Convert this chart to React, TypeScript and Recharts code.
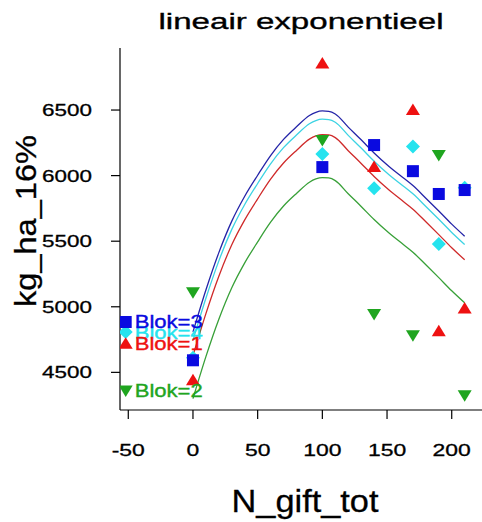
import { ComposedChart, Line, Scatter, XAxis, YAxis } from 'recharts';

const FONT = '"Liberation Sans", Arial, sans-serif';

// observations per block (x = N_gift_tot)
const blokX = [-52, 0, 100, 140, 170, 190, 210];
const blok1Y = [4719, 4440, 6855, 6065, 6500, 4814, 4987];
const blok2Y = [4362, 5111, 6271, 4945, 4783, 6157, 4325];
const blok3Y = [4884, 4592, 6065, 6233, 6034, 5860, 5890];
const blok4Y = [4807, 4612, 6164, 5904, 6222, 5478, 5908];

// fitted lineair-exponentieel curves
const curveX = [0, 10, 20, 30, 40, 50, 60, 70, 80, 90, 95, 100, 105, 110, 120, 130, 140, 150, 160, 170, 180, 190, 200, 210];
const fit1 = [4628, 4948, 5233, 5473, 5663, 5823, 5973, 6096, 6192, 6278, 6303, 6313, 6310, 6290, 6190, 6093, 5993, 5903, 5823, 5744, 5648, 5550, 5450, 5358];
const fit2 = [4300, 4620, 4905, 5145, 5335, 5495, 5645, 5768, 5864, 5950, 5975, 5985, 5982, 5962, 5862, 5765, 5665, 5575, 5495, 5416, 5320, 5222, 5122, 5030];
const fit3 = [4808, 5128, 5413, 5653, 5843, 6003, 6153, 6276, 6372, 6458, 6483, 6493, 6490, 6470, 6370, 6273, 6173, 6083, 6003, 5924, 5828, 5730, 5630, 5538];
const fit4 = [4745, 5065, 5350, 5590, 5780, 5940, 6090, 6213, 6309, 6395, 6420, 6430, 6427, 6407, 6307, 6210, 6110, 6020, 5940, 5861, 5765, 5667, 5567, 5475];

const xTicks = [-50, 0, 50, 100, 150, 200];
const yTicks = [4500, 5000, 5500, 6000, 6500];

type Kind = 'up' | 'down' | 'square' | 'diamond';

const series = [
  { name: 'Blok=4', ys: blok4Y, fit: fit4, kind: 'diamond' as Kind, color: '#25e3ee', line: '#3cd3e3' },
  { name: 'Blok=3', ys: blok3Y, fit: fit3, kind: 'square' as Kind, color: '#0a0ae0', line: '#2424a8' },
  { name: 'Blok=1', ys: blok1Y, fit: fit1, kind: 'up' as Kind, color: '#ee1111', line: '#cf2a2a' },
  { name: 'Blok=2', ys: blok2Y, fit: fit2, kind: 'down' as Kind, color: '#1fa51f', line: '#38a038' },
];

function marker(kind: Kind, cx: number, cy: number, color: string) {
  if (kind === 'square') return <rect x={cx - 6} y={cy - 6} width={12} height={12} fill={color} />;
  if (kind === 'diamond')
    return <polygon points={`${cx},${cy - 7} ${cx + 7},${cy} ${cx},${cy + 7} ${cx - 7},${cy}`} fill={color} />;
  if (kind === 'up')
    return <polygon points={`${cx},${cy - 6.5} ${cx + 7},${cy + 5} ${cx - 7},${cy + 5}`} fill={color} />;
  return <polygon points={`${cx - 7},${cy - 5} ${cx + 7},${cy - 5} ${cx},${cy + 6.5}`} fill={color} />;
}

function makeShape(kind: Kind, color: string) {
  return (props: any) => {
    const { cx, cy, payload } = props;
    return (
      <g>
        {marker(kind, cx, cy, color)}
        {payload.label && (
          <text
            x={cx + 9}
            y={cy + 6.5}
            fontSize={18.5}
            fill={color}
            stroke={color}
            strokeWidth={0.4}
            fontFamily={FONT}
            textLength={68}
            lengthAdjust="spacingAndGlyphs"
          >
            {payload.label}
          </text>
        )}
      </g>
    );
  };
}

function XTick({ x, y, payload }: any) {
  return (
    <text transform={`translate(${x},${y + 35}) scale(1.35,1)`} textAnchor="middle" fontSize={17} fill="#000" stroke="#000" strokeWidth={0.3} fontFamily={FONT}>
      {payload.value}
    </text>
  );
}

function YTick({ x, y, payload }: any) {
  return (
    <text transform={`translate(${x - 17},${y + 6}) scale(1.32,1)`} textAnchor="end" fontSize={17} fill="#000" stroke="#000" strokeWidth={0.3} fontFamily={FONT}>
      {payload.value}
    </text>
  );
}

export default function App() {
  return (
    <div style={{ width: 482, height: 522, background: '#fff' }}>
      <style>{'body{margin:0;background:#fff}'}</style>
      <ComposedChart width={482} height={522} margin={{ top: 48, right: 0, bottom: 0, left: 0 }}>
        <XAxis
          type="number"
          dataKey="x"
          domain={[-56.4, 223.4]}
          allowDataOverflow
          ticks={xTicks}
          height={112}
          tickSize={9}
          tick={<XTick />}
          axisLine={{ stroke: '#000', strokeWidth: 1.2 }}
          tickLine={{ stroke: '#000', strokeWidth: 1.2 }}
        />
        <YAxis
          type="number"
          dataKey="y"
          domain={[4213, 6973]}
          allowDataOverflow
          ticks={yTicks}
          width={120}
          tickSize={9}
          tick={<YTick />}
          axisLine={{ stroke: '#000', strokeWidth: 1.2 }}
          tickLine={{ stroke: '#000', strokeWidth: 1.2 }}
        />
        {series.map(s => (
          <Line
            key={'fit' + s.name}
            data={curveX.map((x, i) => ({ x, y: s.fit[i] }))}
            dataKey="y"
            type="monotone"
            stroke={s.line}
            strokeWidth={1.3}
            dot={false}
            activeDot={false}
            isAnimationActive={false}
          />
        ))}
        {series.map(s => (
          <Scatter
            key={'obs' + s.name}
            data={blokX.map((x, i) => ({ x, y: s.ys[i], label: i === 0 ? s.name : undefined }))}
            dataKey="y"
            shape={makeShape(s.kind, s.color)}
            isAnimationActive={false}
          />
        ))}
        <text x={301} y={28.5} textAnchor="middle" fontSize={22.5} fill="#000" stroke="#000" strokeWidth={0.35} fontFamily={FONT} textLength={285} lengthAdjust="spacingAndGlyphs">
          lineair exponentieel
        </text>
        <text x={305} y={511.5} textAnchor="middle" fontSize={32} fill="#000" stroke="#000" strokeWidth={0.3} fontFamily={FONT} textLength={147} lengthAdjust="spacingAndGlyphs">
          N_gift_tot
        </text>
        <text
          transform="translate(36,221) rotate(-90)"
          textAnchor="middle"
          fontSize={30}
          fill="#000"
          stroke="#000"
          strokeWidth={0.3}
          fontFamily={FONT}
          textLength={172}
          lengthAdjust="spacingAndGlyphs"
        >
          kg_ha_16%
        </text>
      </ComposedChart>
    </div>
  );
}
